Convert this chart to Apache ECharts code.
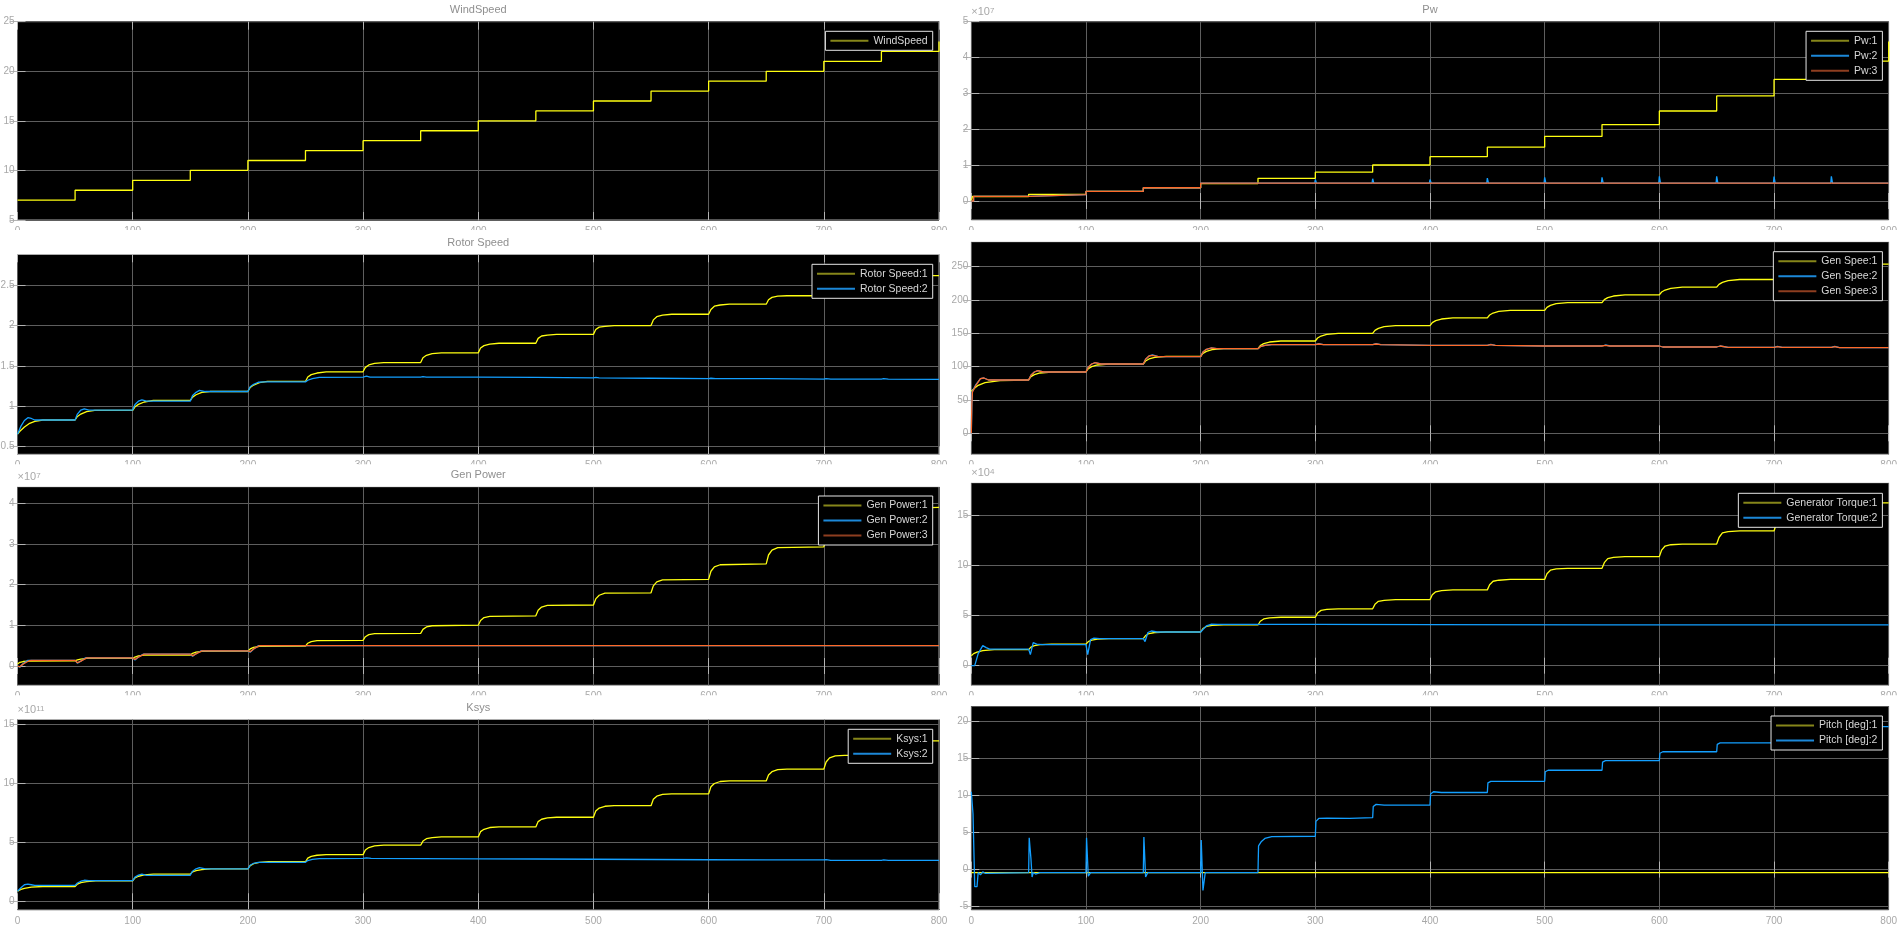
<!DOCTYPE html>
<html>
<head>
<meta charset="utf-8">
<script src="https://cdn.jsdelivr.net/npm/echarts@6/dist/echarts.min.js"></script>
<style>
  html, body { margin: 0; padding: 0; background: #fff; }
  #main { width: 1904px; height: 930px; }
</style>
</head>
<body>
<div id="main"></div>
<script>
// ---- data (time in s) ----
var windSpeed = [[0,7],[50,8],[100,9],[150,10],[200,11],[250,12],[300,13],[350,14],[400,15],[450,16],[500,17],[550,18],[600,19],[650,20],[700,21],[750,22],[800,23]];

// Pw (x1e7)
var pw1 = [[0,0],[1,0.126],[50,0.187],[100,0.267],[150,0.366],[200,0.487],[250,0.632],[300,0.804],[350,1.004],[400,1.235],[450,1.5],[500,1.8],[550,2.13],[600,2.51],[650,2.93],[700,3.39],[750,3.9],[800,4.45]];
var pw2 = [[0,0],[2,0.13],[50,0.18],[100,0.27],[150,0.37],[200,0.5],[299.5,0.5],[300,0.6],[301,0.5],[349.5,0.5],[350,0.62],[351,0.5],[399.5,0.5],[400,0.6],[401,0.5],[449.5,0.5],[450,0.64],[451,0.5],[499.5,0.5],[500,0.66],[501,0.5],[549.5,0.5],[550,0.66],[551,0.5],[599.5,0.5],[600,0.69],[601,0.5],[649.5,0.5],[650,0.69],[651,0.5],[699.5,0.5],[700,0.68],[701,0.5],[749.5,0.5],[750,0.69],[751,0.5],[800,0.5]];
var pw3 = [[0,0],[2,0.13],[50,0.18],[100,0.27],[150,0.37],[200,0.5],[800,0.5]];

// Rotor Speed
var rotor1 = [[0,0.65],[3,0.70],[6,0.74],[10,0.78],[15,0.81],[22,0.826],[50,0.826],
  [52,0.87],[55,0.90],[60,0.93],[67,0.945],[100,0.945],
  [102,0.99],[105,1.02],[110,1.05],[118,1.07],[150,1.07],
  [152,1.11],[155,1.14],[160,1.17],[167,1.18],[200,1.18],
  [202,1.23],[205,1.26],[210,1.29],[217,1.305],[250,1.305],
  [252,1.36],[255,1.39],[260,1.41],[268,1.425],[300,1.425],
  [302,1.48],[305,1.51],[310,1.53],[318,1.54],[350,1.54],
  [352,1.60],[355,1.63],[360,1.65],[368,1.66],[400,1.66],
  [402,1.72],[405,1.75],[410,1.77],[418,1.78],[450,1.78],
  [452,1.84],[455,1.87],[460,1.88],[468,1.89],[500,1.89],
  [502,1.95],[505,1.98],[510,1.99],[518,2.0],[550,2.0],
  [552,2.07],[555,2.11],[560,2.13],[568,2.14],[600,2.14],
  [602,2.2],[605,2.24],[610,2.255],[618,2.265],[650,2.265],
  [652,2.32],[655,2.35],[660,2.365],[668,2.37],[700,2.37],
  [702,2.44],[705,2.47],[710,2.49],[718,2.5],[750,2.5],
  [752,2.56],[755,2.6],[760,2.61],[768,2.62],[800,2.62]];
var rotor2 = [[0,0.65],[3,0.75],[6,0.82],[9,0.855],[12,0.845],[15,0.826],[50,0.826],
  [52,0.9],[55,0.95],[58,0.965],[62,0.95],[100,0.95],
  [102,1.02],[105,1.06],[108,1.075],[112,1.06],[150,1.06],
  [152,1.13],[155,1.17],[158,1.195],[163,1.18],[200,1.18],
  [202,1.24],[205,1.27],[209,1.295],[214,1.30],[250,1.30],
  [252,1.32],[256,1.34],[262,1.355],[300,1.36],[303,1.37],[306,1.36],
  [350,1.36],[352,1.365],[355,1.36],[400,1.36],[450,1.355],[500,1.35],[502,1.355],[505,1.35],
  [550,1.345],[600,1.34],[602,1.345],[606,1.34],[650,1.34],[700,1.335],[702,1.34],[706,1.335],
  [750,1.335],[752,1.34],[756,1.335],[800,1.33]];

// Gen Speed
var genSpeed1 = [[0,63],[3,68],[6,72],[12,76],[25,79],[50,80],
  [52,85],[55,88],[60,90.5],[70,92],[100,92.3],
  [102,97],[105,100],[110,102.5],[120,103.9],[150,103.9],
  [152,108.5],[155,111.5],[160,114],[170,115.4],[200,115.4],
  [202,120],[205,123],[210,125.5],[220,127],[250,127],
  [252,131.5],[255,134.5],[260,137],[270,138.5],[300,138.5],
  [302,143],[305,146],[310,148.5],[320,150],[350,150],
  [352,154.5],[355,157.5],[360,160],[370,161.6],[400,161.6],
  [402,166],[405,169],[410,171.5],[420,173.1],[450,173.1],
  [452,177.5],[455,180.5],[460,183],[470,184.6],[500,184.6],
  [502,189],[505,192],[510,194.5],[520,196.2],[550,196.2],
  [552,200.5],[555,203.5],[560,206],[570,207.7],[600,207.7],
  [602,212],[605,215],[610,217.5],[620,219.3],[650,219.3],
  [652,223.5],[655,226.5],[660,229],[670,230.8],[700,230.8],
  [702,235],[705,238],[710,240.5],[720,242.3],[750,242.3],
  [752,246.5],[755,249.5],[760,252],[770,253.9],[800,253.9]];
var genSpeed2 = [[0,0],[0.5,48],[1,63],[4,73],[8,82],[11,83],[15,80],[50,80],
  [52,87],[55,92],[58,94],[63,92],[100,92],
  [102,99],[105,104],[108,106],[113,104],[150,104],
  [152,111],[155,116],[158,117.5],[163,115],[200,115],
  [202,122],[205,126],[209,128],[214,127],[250,127],
  [252,130],[256,132],[262,133],[300,133],[303,134.5],[307,133],[350,133],[353,134.5],[357,133],
  [400,132],[450,132],[453,133.5],[457,132],[500,131],[550,131],[553,132.5],[557,131],
  [600,131],[603,129.5],[650,129.5],[653,131],[660,129],[700,129],[703,130.5],[707,129],
  [750,129],[753,130.5],[757,128.5],[800,128.5]];
var genSpeed3 = [[0,0],[0.5,45],[1,62],[4,72],[8,82],[11,83],[15,80],[50,80],
  [52,87],[55,92],[58,94],[63,92],[100,92],
  [102,99],[105,104],[108,106],[113,104],[150,104],
  [152,111],[155,116],[158,117],[163,115],[200,115],
  [202,122],[205,126],[209,128],[214,127],[250,127],
  [252,130],[256,132],[262,133],[300,133],[303,134],[307,133],[350,133],[353,134],[357,133],
  [400,132],[450,132],[453,133],[457,132],[500,131],[550,131],[553,132],[557,131],
  [600,131],[603,129.5],[650,129.5],[653,131],[660,129],[700,129],[703,130],[707,129],
  [750,129],[753,130],[757,128.5],[800,128.5]];

// Gen Power (x1e7)
var genPower1 = [[0,0.05],[2,0.09],[5,0.11],[10,0.12],[50,0.126],
  [52,0.15],[55,0.17],[60,0.185],[100,0.187],
  [102,0.22],[105,0.25],[110,0.265],[150,0.267],
  [152,0.31],[155,0.34],[160,0.36],[200,0.366],
  [202,0.42],[205,0.46],[210,0.48],[250,0.487],
  [252,0.56],[255,0.6],[260,0.625],[300,0.632],
  [302,0.72],[305,0.77],[310,0.795],[350,0.804],
  [352,0.9],[355,0.96],[360,0.99],[400,1.004],
  [402,1.12],[405,1.19],[410,1.22],[450,1.235],
  [452,1.37],[455,1.45],[460,1.49],[500,1.5],
  [502,1.65],[505,1.74],[510,1.79],[550,1.8],
  [552,1.97],[555,2.07],[560,2.12],[600,2.13],
  [602,2.33],[605,2.44],[610,2.49],[650,2.51],
  [652,2.73],[655,2.85],[660,2.91],[700,2.93],
  [702,3.17],[705,3.3],[710,3.37],[750,3.39],
  [752,3.65],[755,3.8],[760,3.87],[800,3.9]];
var genPower2 = [[0,0],[2,-0.03],[5,0.06],[9,0.14],[12,0.14],[50,0.14],[52,0.07],[55,0.12],[59,0.2],[100,0.2],
  [102,0.15],[105,0.22],[109,0.29],[150,0.29],[152,0.24],[155,0.3],[159,0.37],[200,0.37],
  [202,0.34],[205,0.42],[209,0.5],[800,0.5]];
var genPower3 = [[0,0],[2,-0.02],[5,0.05],[10,0.13],[12,0.14],[50,0.14],[52,0.08],[55,0.12],[60,0.2],[100,0.2],
  [102,0.16],[105,0.22],[110,0.29],[150,0.29],[152,0.25],[155,0.3],[160,0.37],[200,0.37],
  [202,0.35],[205,0.42],[210,0.5],[800,0.5]];

// Generator Torque (x1e4)
var torque1 = [[0,1.0],[2,1.2],[5,1.35],[10,1.5],[20,1.6],[50,1.6],
  [52,1.85],[55,2.0],[60,2.1],[70,2.14],[100,2.14],
  [102,2.4],[105,2.55],[110,2.65],[120,2.7],[150,2.7],
  [152,3.0],[155,3.2],[160,3.3],[170,3.35],[200,3.35],
  [202,3.7],[205,3.9],[210,4.0],[220,4.05],[250,4.05],
  [252,4.42],[255,4.65],[260,4.76],[270,4.82],[300,4.82],
  [302,5.25],[305,5.5],[310,5.6],[320,5.66],[350,5.66],
  [352,6.1],[355,6.4],[360,6.5],[370,6.57],[400,6.57],
  [402,7.05],[405,7.35],[410,7.47],[420,7.54],[450,7.54],
  [452,8.05],[455,8.4],[460,8.5],[470,8.58],[500,8.58],
  [502,9.15],[505,9.5],[510,9.62],[520,9.68],[550,9.68],
  [552,10.25],[555,10.65],[560,10.78],[570,10.85],[600,10.85],
  [602,11.5],[605,11.9],[610,12.03],[620,12.1],[650,12.1],
  [652,12.75],[655,13.2],[660,13.33],[670,13.4],[700,13.4],
  [702,14.1],[705,14.55],[710,14.72],[720,14.8],[750,14.8],
  [752,15.5],[755,16.0],[760,16.13],[770,16.2],[800,16.2]];
var torque2 = [[0,0],[3,0],[6,1.2],[10,2.0],[13,1.8],[16,1.65],[50,1.65],[51.5,1.1],[54,2.3],[57,2.15],[62,2.1],
  [100,2.1],[101.5,1.1],[104,2.6],[107,2.75],[112,2.7],[150,2.7],[151.5,2.4],[154,3.3],[157,3.45],[162,3.35],
  [200,3.35],[202,3.6],[205,3.95],[209,4.12],[215,4.1],[300,4.1],[400,4.08],[550,4.06],[551,4.0],[553,4.06],[800,4.06]];

// Ksys (x1e11)
var ksys1 = [[0,0.85],[3,1.0],[6,1.1],[12,1.2],[22,1.25],[50,1.25],
  [52,1.45],[55,1.58],[60,1.67],[68,1.72],[100,1.72],
  [102,1.98],[105,2.12],[110,2.23],[118,2.3],[150,2.3],
  [152,2.5],[155,2.6],[160,2.69],[168,2.74],[200,2.74],
  [202,3.02],[205,3.18],[210,3.3],[218,3.35],[250,3.35],
  [252,3.65],[255,3.8],[260,3.9],[268,3.95],[300,3.95],
  [302,4.35],[305,4.55],[310,4.7],[318,4.75],[350,4.75],
  [352,5.1],[355,5.3],[360,5.4],[368,5.45],[400,5.45],
  [402,5.9],[405,6.1],[410,6.25],[418,6.3],[450,6.3],
  [452,6.75],[455,6.95],[460,7.07],[468,7.12],[500,7.12],
  [502,7.65],[505,7.9],[510,8.05],[518,8.1],[550,8.1],
  [552,8.65],[555,8.9],[560,9.05],[568,9.1],[600,9.1],
  [602,9.7],[605,9.98],[610,10.15],[618,10.2],[650,10.2],
  [652,10.7],[655,10.98],[660,11.15],[668,11.2],[700,11.2],
  [702,11.8],[705,12.15],[710,12.32],[718,12.37],[750,12.37],
  [752,13.0],[755,13.38],[760,13.55],[768,13.6],[800,13.6]];
var ksys2 = [[0,0.85],[3,1.15],[6,1.4],[9,1.45],[12,1.4],[15,1.35],[50,1.35],
  [52,1.55],[55,1.7],[58,1.78],[62,1.75],[100,1.75],
  [102,2.05],[105,2.22],[108,2.3],[112,2.2],[150,2.2],
  [152,2.55],[155,2.75],[158,2.85],[163,2.75],[200,2.75],
  [202,3.05],[205,3.22],[209,3.3],[214,3.3],[250,3.3],
  [252,3.45],[256,3.55],[262,3.62],[300,3.64],[303,3.68],[307,3.64],
  [350,3.62],[400,3.6],[450,3.58],[500,3.56],[550,3.54],[600,3.52],[650,3.5],
  [700,3.5],[702,3.53],[706,3.47],[750,3.47],[752,3.5],[756,3.47],[800,3.47]];

// Pitch [deg]
var pitch1 = [[0,-0.4],[800,-0.4]];
var pitch2 = [[0,10.5],[1,10.5],[1.5,7.5],[2.5,7.5],[3,-2.3],[5,-2.3],[6,-0.4],[8,-0.7],[10,-0.3],[12,-0.5],[50,-0.4],
  [50.5,4.3],[51.5,4.3],[52,1.5],[52.5,1.5],[53,-1.0],[54,-0.4],[56,-0.6],[60,-0.4],
  [100,-0.4],[100.5,4.3],[101.5,4.3],[102,-0.9],[104,-0.4],
  [150,-0.4],[150.5,4.4],[151.5,4.4],[152,-1.0],[154,-0.4],
  [200,-0.4],[200.5,4.0],[201.5,4.0],[202,-2.8],[203,-2.8],[204,-0.4],
  [250,-0.4],[250.5,3.2],[253,3.8],[256,4.2],[262,4.45],[300,4.5],
  [300.5,6.5],[303,6.9],[310,6.95],[330,6.9],[350,7.0],
  [350.5,8.5],[353,8.8],[360,8.7],[400,8.7],
  [400.5,10.2],[403,10.5],[410,10.4],[450,10.4],
  [450.5,11.7],[453,11.9],[500,11.9],
  [500.5,13.2],[503,13.4],[550,13.4],
  [550.5,14.5],[553,14.7],[600,14.7],
  [600.5,15.7],[603,15.9],[650,15.9],
  [650.5,16.9],[653,17.1],[700,17.1],
  [700.5,18.0],[703,18.2],[750,18.2],
  [750.5,19.1],[753,19.3],[800,19.3]];

// tick values
var windTicks = [5, 10, 15, 20, 25];
var pwTicks = [0, 1, 2, 3, 4, 5];
var rotorTicks = [0.5, 1, 1.5, 2, 2.5];
var genSpeedTicks = [0, 50, 100, 150, 200, 250];
var genPowerTicks = [0, 1, 2, 3, 4];
var torqueTicks = [0, 5, 10, 15];
var ksysTicks = [0, 5, 10, 15];
var pitchTicks = [-5, 0, 5, 10, 15, 20];

// ---- layout ----
var FONT = 'Liberation Sans, Arial, sans-serif';
var lineColors = ['#ffff11', '#139fff', '#ff6929'];
var legendColors = ['#86861a', '#1c88d8', '#8e3e20'];
var cols = [{ left: 17.5, right: 939 }, { left: 971.3, right: 1888.7 }];

var panels = [
  { col: 0, top: 21.7, bottom: 220, yMin: 5, yMax: 25, ticks: windTicks, names: ['WindSpeed'], data: [windSpeed], step: true, title: 'WindSpeed', legendTop: 31.3 },
  { col: 1, top: 21.7, bottom: 220, yMin: -0.53, yMax: 5, ticks: pwTicks, names: ['Pw:1', 'Pw:2', 'Pw:3'], data: [pw1, pw2, pw3], step: true, title: 'Pw', exp: '7', legendTop: 31.3 },
  { col: 0, top: 254.3, bottom: 454.3, yMin: 0.4, yMax: 2.885, ticks: rotorTicks, names: ['Rotor Speed:1', 'Rotor Speed:2'], data: [rotor1, rotor2], title: 'Rotor Speed', legendTop: 264.3 },
  { col: 1, top: 241.7, bottom: 454.3, yMin: -31.5, yMax: 287.5, ticks: genSpeedTicks, names: ['Gen Spee:1', 'Gen Spee:2', 'Gen Spee:3'], data: [genSpeed1, genSpeed2, genSpeed3], legendTop: 251.7 },
  { col: 0, top: 486.7, bottom: 685.3, yMin: -0.475, yMax: 4.41, ticks: genPowerTicks, names: ['Gen Power:1', 'Gen Power:2', 'Gen Power:3'], data: [genPower1, genPower2, genPower3], title: 'Gen Power', exp: '7', legendTop: 496 },
  { col: 1, top: 482.7, bottom: 685.3, yMin: -1.95, yMax: 18.2, ticks: torqueTicks, names: ['Generator Torque:1', 'Generator Torque:2'], data: [torque1, torque2], exp: '4', legendTop: 493.3 },
  { col: 0, top: 719.3, bottom: 910, yMin: -0.74, yMax: 15.42, ticks: ksysTicks, names: ['Ksys:1', 'Ksys:2'], data: [ksys1, ksys2], title: 'Ksys', exp: '11', legendTop: 729.3 },
  { col: 1, top: 706, bottom: 910, yMin: -5.45, yMax: 22.07, ticks: pitchTicks, names: ['Pitch [deg]:1', 'Pitch [deg]:2'], data: [pitch1, pitch2], legendTop: 716 }
];

var grids = [], xAxes = [], yAxes = [], series = [], legends = [], graphics = [];
var tickStyle = { inside: true, length: 8, lineStyle: { color: '#b4b4b4', width: 1 } };
var splitStyle = { show: true, lineStyle: { color: '#5e5e5e', width: 1 } };

panels.forEach(function (p, i) {
  var c = cols[p.col];
  grids.push({
    left: c.left, top: p.top, width: c.right - c.left, height: p.bottom - p.top,
    show: true, backgroundColor: '#000', borderColor: '#a8a8a8', borderWidth: 1,
    containLabel: false, outerBoundsMode: 'none'
  });
  xAxes.push({
    type: 'value', gridIndex: i, min: 0, max: 800, interval: 100,
    axisLine: { show: false }, axisTick: tickStyle, splitLine: splitStyle,
    axisLabel: { color: '#a8a8a8', fontSize: 10, fontFamily: FONT, margin: 6 }
  });
  xAxes.push({
    type: 'value', gridIndex: i, position: 'top', min: 0, max: 800, interval: 100,
    axisLine: { show: false }, axisTick: tickStyle, splitLine: { show: false }, axisLabel: { show: false }
  });
  yAxes.push({
    type: 'value', gridIndex: i, min: p.yMin, max: p.yMax,
    axisLine: { show: false },
    axisTick: { inside: true, length: 8, lineStyle: tickStyle.lineStyle, customValues: p.ticks },
    splitLine: splitStyle,
    axisLabel: { color: '#a8a8a8', fontSize: 10, fontFamily: FONT, margin: 3, customValues: p.ticks }
  });
  yAxes.push({
    type: 'value', gridIndex: i, position: 'right', min: p.yMin, max: p.yMax,
    axisLine: { show: false },
    axisTick: { inside: true, length: 8, lineStyle: tickStyle.lineStyle, customValues: p.ticks },
    splitLine: { show: false }, axisLabel: { show: false }
  });
  p.data.forEach(function (d, k) {
    series.push({
      type: 'line', name: p.names[k], xAxisIndex: 2 * i, yAxisIndex: 2 * i,
      data: d, step: p.step ? 'end' : false, symbol: 'none', showSymbol: false,
      lineStyle: { color: lineColors[k], width: 1.3 }, itemStyle: { color: lineColors[k] },
      animation: false
    });
  });
  legends.push({
    orient: 'vertical', right: 1904 - (c.right - 6.3), top: p.legendTop,
    backgroundColor: '#000', borderColor: '#e6e6e6', borderWidth: 1, borderRadius: 0,
    padding: [3, 5, 3, 5], itemGap: 2, itemWidth: 38, itemHeight: 2, selectedMode: false,
    icon: 'rect',
    textStyle: { color: '#d6d6d6', fontSize: 10.5, fontFamily: FONT, lineHeight: 13 },
    data: p.names.map(function (n, k) {
      return { name: n, icon: 'rect', itemStyle: { color: legendColors[k], borderWidth: 0 } };
    })
  });

  // white band that clips the x tick labels under the next axes (rows 1-3)
  if (p.bottom < 900) {
    var next = panels[i + 2];
    var x0 = p.col === 0 ? 0 : 955, x1 = p.col === 0 ? 955 : 1904;
    graphics.push({ type: 'rect', z: 50, shape: { x: x0, y: p.bottom + 10, width: x1 - x0, height: next.top - p.bottom - 10 }, style: { fill: '#fff' } });
  }
  if (p.title) {
    graphics.push({ type: 'text', z: 60, x: (c.left + c.right) / 2, y: p.top - 11.5,
      style: { text: p.title, fill: '#8f8f8f', font: '11px ' + FONT, align: 'center', verticalAlign: 'middle', textAlign: 'center', textVerticalAlign: 'middle' } });
  }
  if (p.exp) {
    graphics.push({ type: 'text', z: 60, x: c.left, y: p.top - 15,
      style: { text: '{a|×10}{b|' + p.exp + '}', fill: '#a8a8a8',
        rich: { a: { fontSize: 11, fontFamily: FONT, fill: '#a8a8a8' }, b: { fontSize: 8, fontFamily: FONT, fill: '#a8a8a8', verticalAlign: 'top' } } } });
  }
});

var chart = echarts.init(document.getElementById('main'), null, { renderer: 'canvas' });
chart.setOption({
  backgroundColor: '#fff',
  animation: false,
  grid: grids,
  xAxis: xAxes,
  yAxis: yAxes,
  legend: legends,
  series: series,
  graphic: { elements: graphics }
});
</script>
</body>
</html>
